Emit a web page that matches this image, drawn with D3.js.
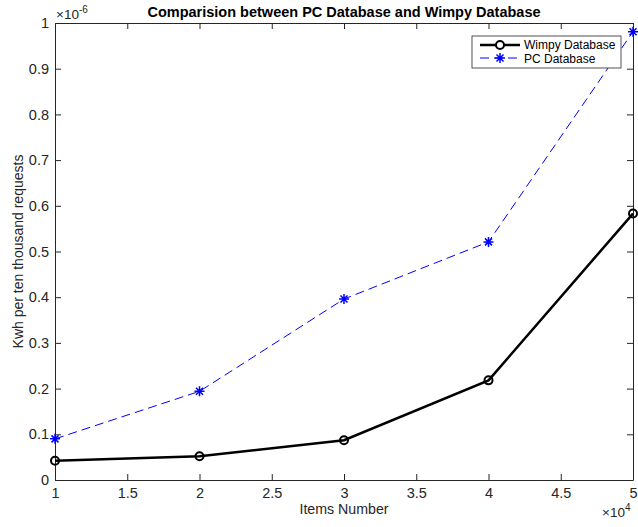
<!DOCTYPE html>
<html>
<head>
<meta charset="utf-8">
<script src="https://cdn.jsdelivr.net/npm/d3@7"></script>
<style>
  body { margin: 0; background: #fff; }
  text { font-family: "Liberation Sans", Arial, sans-serif; }
</style>
</head>
<body>
<div id="chart"></div>
<script>
// chart data (y values in units of 1e-6)
const itemsNumber = [1, 2, 3, 4, 5];            // x 10^4
const wimpyValues = [0.042, 0.052, 0.087, 0.218, 0.583];
const pcValues = [0.090, 0.194, 0.396, 0.521, 0.981];
const xTicks = [1, 1.5, 2, 2.5, 3, 3.5, 4, 4.5, 5];
const yTicks = [0, 0.1, 0.2, 0.3, 0.4, 0.5, 0.6, 0.7, 0.8, 0.9, 1];

const WIDTH = 638;
const HEIGHT = 527;
const margin = { left: 55, right: 5, top: 23, bottom: 47 };
const axisColor = "#262626";

const svg = d3.select("#chart")
    .append("svg")
    .attr("width", WIDTH)
    .attr("height", HEIGHT);

const x = d3.scaleLinear().domain([1, 5]).range([margin.left, WIDTH - margin.right]);
const y = d3.scaleLinear().domain([0, 1]).range([HEIGHT - margin.bottom, margin.top]);

const fmt = d => String(+d.toFixed(2));

// axes with inward ticks, on all four sides
const drawAxis = (axis, transform, showLabels, padding) => {
    const g = svg.append("g")
        .attr("transform", transform)
        .call(axis.tickSizeInner(-6).tickSizeOuter(0).tickPadding(padding).tickFormat(showLabels ? fmt : ""));
    g.select(".domain").attr("stroke", axisColor);
    g.selectAll(".tick line").attr("stroke", axisColor);
    g.selectAll(".tick text")
        .attr("fill", axisColor)
        .attr("font-size", 14.5)
        .attr("font-family", "Liberation Sans, Arial, sans-serif");
    return g;
};

drawAxis(d3.axisBottom(x).tickValues(xTicks), `translate(0,${HEIGHT - margin.bottom})`, true, 8);
drawAxis(d3.axisTop(x).tickValues(xTicks), `translate(0,${margin.top})`, false, 8);
drawAxis(d3.axisLeft(y).tickValues(yTicks), `translate(${margin.left},0)`, true, 6);
drawAxis(d3.axisRight(y).tickValues(yTicks), `translate(${WIDTH - margin.right},0)`, false, 6);

// exponent labels
const expY = svg.append("text").attr("x", margin.left + 1).attr("y", 19)
    .attr("font-size", 13.5).attr("fill", axisColor);
expY.append("tspan").text("\u00d710");
expY.append("tspan").attr("dy", -6).attr("font-size", 10).text("-6");

const expX = svg.append("text").attr("x", 602).attr("y", 517)
    .attr("font-size", 13.5).attr("fill", axisColor);
expX.append("tspan").text("\u00d710");
expX.append("tspan").attr("dy", -6).attr("font-size", 10).text("4");

// title and axis labels
svg.append("text")
    .attr("x", (margin.left + WIDTH - margin.right) / 2)
    .attr("y", 17)
    .attr("text-anchor", "middle")
    .attr("font-size", 14.5)
    .attr("font-weight", "bold")
    .text("Comparision between PC Database and Wimpy Database");

svg.append("text")
    .attr("x", (margin.left + WIDTH - margin.right) / 2)
    .attr("y", 514)
    .attr("text-anchor", "middle")
    .attr("font-size", 14.2)
    .attr("fill", axisColor)
    .text("Items Number");

svg.append("text")
    .attr("transform", `translate(23,${(margin.top + HEIGHT - margin.bottom) / 2}) rotate(-90)`)
    .attr("text-anchor", "middle")
    .attr("font-size", 14)
    .attr("fill", axisColor)
    .text("Kwh per ten thousand requests");

// lines
const line = d3.line().x(d => x(d[0])).y(d => y(d[1]));
const pcData = itemsNumber.map((v, i) => [v, pcValues[i]]);
const wimpyData = itemsNumber.map((v, i) => [v, wimpyValues[i]]);

svg.append("path")
    .datum(pcData)
    .attr("d", line)
    .attr("fill", "none")
    .attr("stroke", "#0000ff")
    .attr("stroke-width", 1)
    .attr("stroke-dasharray", "9,5");

svg.append("path")
    .datum(wimpyData)
    .attr("d", line)
    .attr("fill", "none")
    .attr("stroke", "#000")
    .attr("stroke-width", 2.5);

// markers
const star = "M-5,0H5M0,-5V5M-3.5,-3.5L3.5,3.5M-3.5,3.5L3.5,-3.5";

svg.append("g").selectAll("path")
    .data(pcData)
    .join("path")
    .attr("transform", d => `translate(${x(d[0])},${y(d[1])})`)
    .attr("d", star)
    .attr("stroke", "#0000ff")
    .attr("stroke-width", 1.5)
    .attr("fill", "none");

svg.append("g").selectAll("circle")
    .data(wimpyData)
    .join("circle")
    .attr("cx", d => x(d[0]))
    .attr("cy", d => y(d[1]))
    .attr("r", 4)
    .attr("fill", "none")
    .attr("stroke", "#000")
    .attr("stroke-width", 2);

// legend
const legend = svg.append("g").attr("transform", "translate(472,36)");
legend.append("rect")
    .attr("width", 149).attr("height", 32)
    .attr("fill", "#fff").attr("stroke", axisColor).attr("stroke-width", 0.8);

legend.append("line").attr("x1", 8).attr("x2", 48).attr("y1", 9).attr("y2", 9)
    .attr("stroke", "#000").attr("stroke-width", 2.5);
legend.append("circle").attr("cx", 28).attr("cy", 9).attr("r", 4)
    .attr("fill", "#fff").attr("stroke", "#000").attr("stroke-width", 2);
legend.append("text").attr("x", 52).attr("y", 13).attr("font-size", 12).text("Wimpy Database");

legend.append("line").attr("x1", 8).attr("x2", 48).attr("y1", 22).attr("y2", 22)
    .attr("stroke", "#0000ff").attr("stroke-width", 1).attr("stroke-dasharray", "9,5");
legend.append("path").attr("transform", "translate(28,22)").attr("d", star)
    .attr("stroke", "#0000ff").attr("stroke-width", 1.5).attr("fill", "none");
legend.append("text").attr("x", 52).attr("y", 26.5).attr("font-size", 12).text("PC Database");
</script>
</body>
</html>
